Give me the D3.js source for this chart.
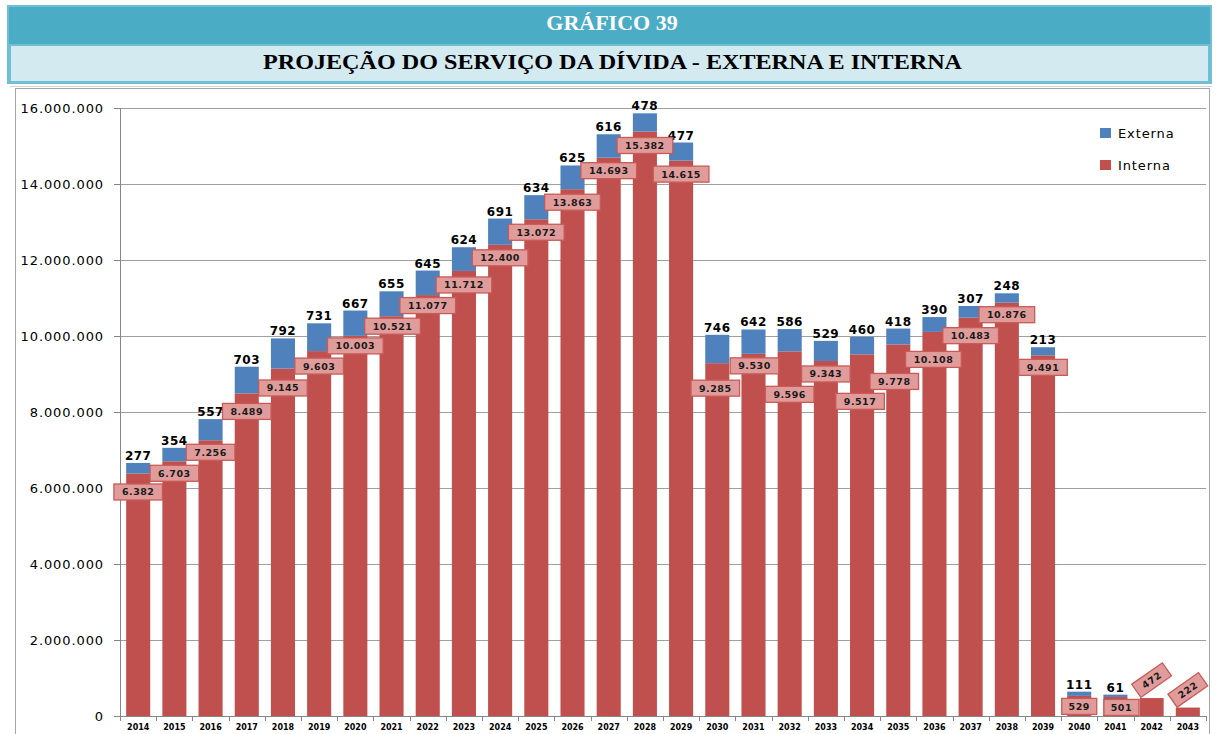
<!DOCTYPE html>
<html lang="pt">
<head>
<meta charset="UTF-8">
<title>Gráfico 39</title>
<style>
  body { margin: 0; background: #fff; }
  svg text { font-family: "DejaVu Sans", Verdana, sans-serif; }
</style>
</head>
<body>
<div id="chart"></div>
<script src="https://d3js.org/d3.v7.min.js"></script>
<script>
// values in thousands
var years = ["2014","2015","2016","2017","2018","2019","2020","2021","2022","2023",
             "2024","2025","2026","2027","2028","2029","2030","2031","2032","2033",
             "2034","2035","2036","2037","2038","2039","2040","2041","2042","2043"];
var interna = [6382, 6703, 7256, 8489, 9145, 9603, 10003, 10521, 11077, 11712,
               12400, 13072, 13863, 14693, 15382, 14615, 9285, 9530, 9596, 9343,
               9517, 9778, 10108, 10483, 10876, 9491, 529, 501, 472, 222];
var externa = [277, 354, 557, 703, 792, 731, 667, 655, 645, 624,
               691, 634, 625, 616, 478, 477, 746, 642, 586, 529,
               460, 418, 390, 307, 248, 213, 111, 61, 0, 0];
var yTicks = [0, 2000000, 4000000, 6000000, 8000000, 10000000, 12000000, 14000000, 16000000];

// manual nudges of the interna labels (as placed in the original spreadsheet)
var nudgeY = [18.5, 12, 12, 18, 19.5, 15, 10, 10, 10.5, 14,
              13, 13, 13, 13, 14, 13.5, 25, 12, 43, 13,
              47, 37, 27.5, 18, 12, 12, 10.5, 10.5, -18, -17.6];
var nudgeX = [0,0,0,0,0,0,0,1,0,0, 0,0,0,0,0,0,-2,1,0,0, -2,-4,-1,0,0,0,0,6,0,0];

var W = 1216, H = 734;
var svg = d3.select("#chart").append("svg").attr("width", W).attr("height", H);

// header
svg.append("rect").attr("x", 7).attr("y", 5).attr("width", 1205).attr("height", 79).attr("fill", "#70bfd4");
svg.append("rect").attr("x", 9).attr("y", 7).attr("width", 1201).attr("height", 37).attr("fill", "#4bacc6");
svg.append("rect").attr("x", 11).attr("y", 46).attr("width", 1197).attr("height", 35).attr("fill", "#d3eaf1");
svg.append("text").attr("x", 612).attr("y", 30).attr("text-anchor", "middle")
  .style("font-family", "'Liberation Serif', 'Times New Roman', serif")
  .style("font-weight", "bold").style("font-size", "22px").attr("fill", "#fff")
  .text("GRÁFICO 39");
svg.append("text").attr("x", 263).attr("y", 69)
  .attr("textLength", 699).attr("lengthAdjust", "spacingAndGlyphs")
  .style("font-family", "'Liberation Serif', 'Times New Roman', serif")
  .style("font-weight", "bold").style("font-size", "22px").attr("fill", "#000")
  .text("PROJEÇÃO DO SERVIÇO DA DÍVIDA - EXTERNA E INTERNA");

// chart frame
svg.append("line").attr("x1", 10).attr("x2", 1212).attr("y1", 86.5).attr("y2", 86.5).attr("stroke", "#d4d4d4");
svg.append("rect").attr("x", 15.5).attr("y", 88.5).attr("width", 1194).attr("height", 660)
  .attr("fill", "none").attr("stroke", "#a6a6a6");

var x0 = 120, x1 = 1206, yTop = 108, yBot = 716;
var x = d3.scaleBand().domain(years).range([x0, x1]).paddingInner(0.335).paddingOuter(0.17);
var y = d3.scaleLinear().domain([0, 16000000]).range([yBot, yTop]);
var fmt = d3.formatLocale({decimal: ",", thousands: ".", grouping: [3], currency: ["", ""]}).format(",");

// gridlines
svg.append("g").selectAll("line").data(yTicks.slice(1)).enter().append("line")
  .attr("x1", x0).attr("x2", x1)
  .attr("y1", d => Math.round(y(d)) + 0.5).attr("y2", d => Math.round(y(d)) + 0.5)
  .attr("stroke", "#a0a0a0");

// y axis
var yAxis = svg.append("g").attr("transform", "translate(" + x0 + ",0)")
  .call(d3.axisLeft(y).tickValues(yTicks).tickSize(6).tickPadding(10).tickFormat(fmt));
yAxis.select(".domain").attr("stroke", "#868686");
yAxis.selectAll(".tick line").attr("stroke", "#868686");
yAxis.selectAll("text").style("font-size", "13px").style("letter-spacing", "0.9px")
  .attr("fill", "#000").style("font-family", "'DejaVu Sans', Verdana, sans-serif");

// x axis
var xAxis = svg.append("g").attr("transform", "translate(0," + yBot + ")")
  .call(d3.axisBottom(x).tickSize(0).tickPadding(8));
xAxis.select(".domain").attr("stroke", "#868686");
xAxis.selectAll("text").style("font-size", "8px").style("font-weight", "bold")
  .attr("fill", "#000").style("font-family", "'DejaVu Sans', Verdana, sans-serif");
svg.append("g").selectAll("line").data(d3.range(years.length + 1)).enter().append("line")
  .attr("x1", i => Math.round(x0 + i * (x1 - x0) / years.length) + 0.5)
  .attr("x2", i => Math.round(x0 + i * (x1 - x0) / years.length) + 0.5)
  .attr("y1", yBot).attr("y2", yBot + 5).attr("stroke", "#868686");

// bars
var bars = svg.append("g");
bars.selectAll(".int").data(years).enter().append("rect")
  .attr("x", d => x(d)).attr("width", x.bandwidth())
  .attr("y", (d, i) => y(interna[i] * 1000))
  .attr("height", (d, i) => yBot - y(interna[i] * 1000))
  .attr("fill", "#c0504d");
bars.selectAll(".ext").data(years).enter().append("rect")
  .attr("x", d => x(d)).attr("width", x.bandwidth())
  .attr("y", (d, i) => y((interna[i] + externa[i]) * 1000))
  .attr("height", (d, i) => y(interna[i] * 1000) - y((interna[i] + externa[i]) * 1000))
  .attr("fill", "#4f81bd");

// externa labels
svg.append("g").selectAll("text").data(years).enter()
  .filter((d, i) => externa[i] > 0)
  .append("text")
  .attr("x", d => x(d) + x.bandwidth() / 2)
  .attr("y", d => { var i = years.indexOf(d); return y((interna[i] + externa[i]) * 1000) - 3; })
  .attr("text-anchor", "middle")
  .style("font-size", "12px").style("font-weight", "bold").style("letter-spacing", "0.5px")
  .attr("fill", "#000")
  .text(d => externa[years.indexOf(d)]);

// interna labels in boxes
var lab = svg.append("g").selectAll("g").data(years).enter().append("g")
  .attr("transform", (d, i) => {
    var cx = x(d) + x.bandwidth() / 2 + nudgeX[i];
    var cy = y(interna[i] * 1000) + nudgeY[i];
    var rot = interna[i] < 500 ? " rotate(-35)" : "";
    return "translate(" + cx + "," + cy + ")" + rot;
  });
lab.each(function(d, i) {
  var g = d3.select(this);
  var txt = fmt(interna[i]);
  var t = g.append("text").attr("text-anchor", "middle").attr("dy", "0.36em")
    .style("font-size", "9.5px").style("font-weight", "bold").style("letter-spacing", "0.5px")
    .attr("fill", "#1a1a1a").text(txt);
  var w = t.node().getComputedTextLength() + 16;
  if (interna[i] > 500 && interna[i] < 1000) w = 35;
  g.insert("rect", "text").attr("x", -w / 2).attr("y", -8).attr("width", w).attr("height", 16)
    .attr("fill", "#e09c9b").attr("stroke", "#c95a57").attr("stroke-width", 1.3);
});

// legend
var legend = svg.append("g").attr("transform", "translate(1100,128)");
var legItems = [["Externa", "#4f81bd"], ["Interna", "#c0504d"]];
legItems.forEach(function(it, k) {
  legend.append("rect").attr("x", 0).attr("y", k * 32).attr("width", 11).attr("height", 10).attr("fill", it[1]);
  legend.append("text").attr("x", 18).attr("y", k * 32 + 5).attr("dy", "0.36em")
    .style("font-size", "13px").style("letter-spacing", "0.9px").attr("fill", "#000").text(it[0]);
});
</script>
</body>
</html>
